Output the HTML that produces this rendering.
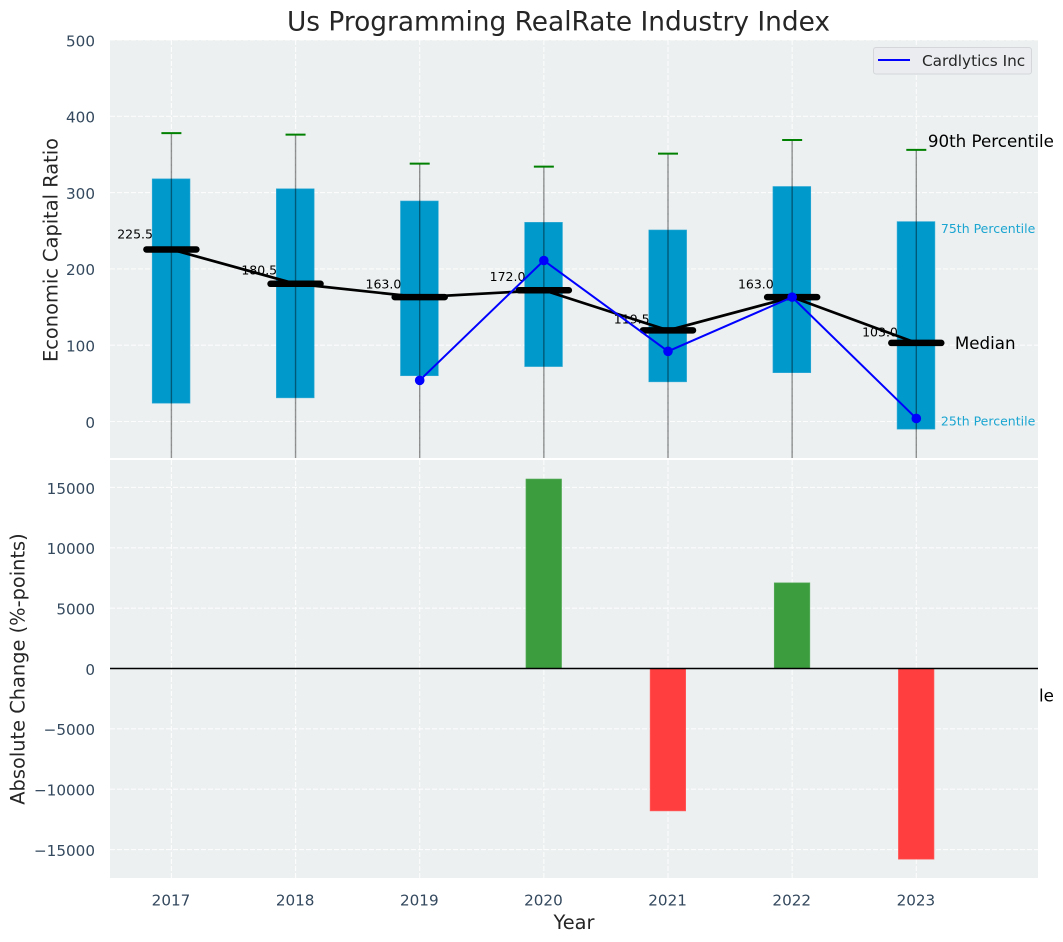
<!DOCTYPE html>
<html lang="en">
<head>
<meta charset="utf-8">
<title>Us Programming RealRate Industry Index</title>
<style>
html,body{margin:0;padding:0;background:#fff;width:1063px;height:942px;overflow:hidden}
svg{display:block;font-family:"DejaVu Sans","Liberation Sans",sans-serif}
</style>
</head>
<body>
<svg id="chart" xmlns="http://www.w3.org/2000/svg" width="1063" height="942" viewBox="0 0 1063 942">
  <defs>
    <clipPath id="top-clip"><rect x="110" y="40" width="928" height="418"/></clipPath>
    <clipPath id="bottom-clip"><rect x="110" y="460" width="928" height="418"/></clipPath>
  </defs>
  <rect x="0" y="0" width="1063" height="942" fill="#ffffff"/>
  <text x="558.5" y="22" font-size="26.4px" fill="#262626" text-anchor="middle" dominant-baseline="central">Us Programming RealRate Industry Index</text>
  <rect x="110" y="40" width="928" height="418" fill="#ecf0f1"/>
  <g id="top-grid"></g>
  <g id="top-marks" clip-path="url(#top-clip)"></g>
  <g id="top-free"></g>
  <rect x="110" y="460" width="928" height="418" fill="#ecf0f1"/>
  <g id="bottom-grid"></g>
  <g id="bottom-marks" clip-path="url(#bottom-clip)"></g>
  <g id="ticks"></g>
  <text transform="translate(51 250) rotate(-90)" font-size="19.4px" fill="#262626" text-anchor="middle" dominant-baseline="central">Economic Capital Ratio</text>
  <text transform="translate(18 669) rotate(-90)" font-size="19.4px" fill="#262626" text-anchor="middle" dominant-baseline="central">Absolute Change (%-points)</text>
  <text x="574" y="922.5" font-size="19.4px" fill="#262626" text-anchor="middle" dominant-baseline="central">Year</text>
  <g>
    <rect x="873.5" y="47.5" width="158" height="26.5" rx="2.5" fill="#eaecf0" stroke="#d4d6d9" stroke-width="1"/>
    <line x1="878" y1="60" x2="910" y2="60" stroke="#0000ff" stroke-width="2"/>
    <text x="922" y="61" font-size="15.3px" fill="#262626" dominant-baseline="central">Cardlytics Inc</text>
  </g>
</svg>
<script>
const years = [2017, 2018, 2019, 2020, 2021, 2022, 2023];
const p90 = [378, 376, 338, 334, 351, 369, 356];
const p75 = [318, 305, 289, 261, 251, 308, 262];
const median = [225.5, 180.5, 163.0, 172.0, 119.5, 163.0, 103.0];
const p25 = [24, 31, 60, 72, 52, 64, -10];
const p10 = [-300, -290, -280, -270, -320, -300, -360];
const cardlytics = [null, null, 54, 211, 92, 163, 4];
const absoluteChange = [null, null, null, 15700, -11800, 7100, -15800];
const topTicks = [0, 100, 200, 300, 400, 500];
const bottomTicks = [-15000, -10000, -5000, 0, 5000, 10000, 15000];

const NS = 'http://www.w3.org/2000/svg';
const X_LEFT = 110, X_RIGHT = 1038;
const xScale = y => 171.4 + (y - 2017) * 124.15;
const topY = v => 421.5 - v * 0.763;
const bottomY = v => 668.5 - v * 0.01207;

function make(parentId, tag, attrs, content) {
  const node = document.createElementNS(NS, tag);
  for (const k in attrs) node.setAttribute(k, attrs[k]);
  if (content !== undefined) node.textContent = content;
  document.getElementById(parentId).appendChild(node);
  return node;
}
const GRID = {stroke: '#ffffff', 'stroke-width': 1.1, 'stroke-dasharray': '5 2', opacity: 0.85};
let el;

// gridlines
topTicks.forEach(t => {
  el = make('top-grid', 'line', {...GRID, x1: X_LEFT, x2: X_RIGHT, y1: topY(t), y2: topY(t)});
  
  
});
bottomTicks.forEach(t => {
  el = make('bottom-grid', 'line', {...GRID, x1: X_LEFT, x2: X_RIGHT, y1: bottomY(t), y2: bottomY(t)});
  
  
});
years.forEach(y => {
  el = make('top-grid', 'line', {...GRID, x1: xScale(y), x2: xScale(y), y1: 40, y2: 458});
  
  
  el = make('bottom-grid', 'line', {...GRID, x1: xScale(y), x2: xScale(y), y1: 460, y2: 878});
  
  
});

// tick labels
topTicks.forEach(t => {
  el = make('ticks', 'text', {x: 95, y: topY(t) + 1.3, 'font-size': '15.2px', fill: '#34495e', 'text-anchor': 'end', 'dominant-baseline': 'central'}, String(t));
  
  
});
bottomTicks.forEach(t => {
  el = make('ticks', 'text', {x: 95, y: bottomY(t) + 1.3, 'font-size': '15.2px', fill: '#34495e', 'text-anchor': 'end', 'dominant-baseline': 'central'}, String(t).replace('-', '\u2212'));
  
  
});
years.forEach(y => {
  el = make('ticks', 'text', {x: xScale(y) - 0.4, y: 900.5, 'font-size': '15.2px', fill: '#34495e', 'text-anchor': 'middle', 'dominant-baseline': 'central'}, String(y));
  
  
});

// boxes
years.forEach((y, i) => {
  el = make('top-marks', 'rect', {x: xScale(y) - 19.2, y: topY(p75[i]), width: 37.8, height: topY(p25[i]) - topY(p75[i]), fill: '#0099cc', stroke: '#33aad4', 'stroke-width': 0.6});
  
  
});
// median value labels
years.forEach((y, i) => {
  el = make('top-marks', 'text', {x: xScale(y) - 18.4, y: topY(median[i] * 1.05) - 7, 'font-size': '12.5px', fill: '#000000', 'text-anchor': 'end', 'dominant-baseline': 'central'}, median[i].toFixed(1));
  
  
});
// whiskers and caps
years.forEach((y, i) => {
  el = make('top-marks', 'line', {x1: xScale(y), x2: xScale(y), y1: topY(p90[i]), y2: topY(p10[i]), stroke: '#000000', 'stroke-opacity': 0.42, 'stroke-width': 1.4});
  
  
  el = make('top-marks', 'line', {x1: xScale(y) - 10, x2: xScale(y) + 10, y1: topY(p90[i]), y2: topY(p90[i]), stroke: '#008000', 'stroke-width': 2});
  
  
});
// median connector
el = make('top-marks', 'polyline', {points: years.map((y, i) => xScale(y) + ',' + topY(median[i])).join(' '), fill: 'none', stroke: '#000000', 'stroke-width': 2.7});


years.forEach((y, i) => {
  el = make('top-marks', 'line', {x1: xScale(y) - 25, x2: xScale(y) + 25, y1: topY(median[i]), y2: topY(median[i]), stroke: '#000000', 'stroke-width': 6.5, 'stroke-linecap': 'round'});
  
  
});
// company series
const seriesPts = years.map((y, i) => [y, cardlytics[i]]).filter(p => p[1] !== null);
el = make('top-marks', 'polyline', {points: seriesPts.map(p => xScale(p[0]) + ',' + topY(p[1])).join(' '), fill: 'none', stroke: '#0000ff', 'stroke-width': 2});


seriesPts.forEach(p => {
  el = make('top-marks', 'circle', {cx: xScale(p[0]), cy: topY(p[1]), r: 4.8, fill: '#0000ff'});
  
  
});

// percentile annotations anchored on the last year
const lastX = xScale(years[6]) - 0.4;
el = make('top-free', 'text', {x: lastX + 12, y: topY(p90[6]) - 9, 'font-size': '16.7px', fill: '#000000', 'dominant-baseline': 'central'}, '90th Percentile');


el = make('top-free', 'text', {x: lastX + 25, y: topY(p75[6]) + 7, 'font-size': '12.5px', fill: '#1ba5d1', 'dominant-baseline': 'central'}, '75th Percentile');


el = make('top-free', 'text', {x: lastX + 39, y: topY(median[6]), 'font-size': '16.7px', fill: '#000000', 'dominant-baseline': 'central'}, 'Median');


el = make('top-free', 'text', {x: lastX + 25, y: topY(p25[6]) - 8, 'font-size': '12.5px', fill: '#1ba5d1', 'dominant-baseline': 'central'}, '25th Percentile');


el = make('top-free', 'text', {x: lastX + 12, y: topY(p10[6]) - 0.5, 'font-size': '16.7px', fill: '#000000', 'dominant-baseline': 'central'}, '10th Percentile');



// change bars
years.forEach((y, i) => {
  const v = absoluteChange[i];
  if (v === null) return;
  const top = Math.min(bottomY(v), bottomY(0));
  const h = Math.abs(bottomY(v) - bottomY(0));
  el = make('bottom-marks', 'rect', {x: xScale(y) - 17.9, y: top, width: 35.6, height: h, fill: v >= 0 ? '#3c9d3f' : '#ff3f3f', stroke: v >= 0 ? '#5cae5f' : '#ff5f5f', 'stroke-width': 0.6});
  
  
});
el = make('bottom-marks', 'line', {x1: X_LEFT, x2: X_RIGHT, y1: bottomY(0), y2: bottomY(0), stroke: '#000000', 'stroke-width': 1.4});


</script>
</body>
</html>
